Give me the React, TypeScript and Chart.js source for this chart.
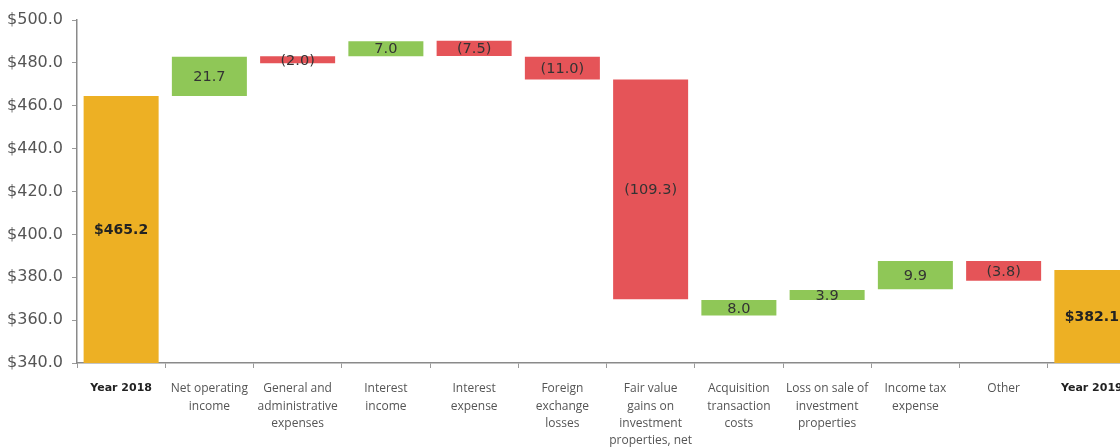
import React, { useEffect, useRef } from "react";
import { Chart, registerables } from "chart.js";

Chart.register(...registerables);

const categories: (string | string[])[] = [
  "Year 2018",
  ["Net operating", "income"],
  ["General and", "administrative", "expenses"],
  ["Interest", "income"],
  ["Interest", "expense"],
  ["Foreign", "exchange", "losses"],
  ["Fair value", "gains on", "investment", "properties, net"],
  ["Acquisition", "transaction", "costs"],
  ["Loss on sale of", "investment", "properties"],
  ["Income tax", "expense"],
  "Other",
  "Year 2019",
];

// bar bottoms and tops as drawn in the reference
const barLow = [340, 464.5, 479.8, 483.1, 483.2, 472.3, 369.7, 362.1, 369.4, 374.4, 378.4, 340];
const barHigh = [464.5, 482.8, 483.1, 490.1, 490.3, 482.8, 472.3, 369.4, 374.0, 387.6, 387.6, 383.4];
const valueLabels = ["$465.2", "21.7", "(2.0)", "7.0", "(7.5)", "(11.0)", "(109.3)", "8.0", "3.9", "9.9", "(3.8)", "$382.1"];
const barKinds = ["total", "up", "down", "up", "down", "down", "down", "up", "up", "up", "down", "total"];

const yMin = 340;
const yMax = 500;
const yStep = 20;

const kindColors: Record<string, string> = {
  total: "#EDB024",
  up: "#8FC757",
  down: "#E55458",
};

const labelPlugin = {
  id: "barValueLabels",
  afterDatasetsDraw(chart: any) {
    const ctx = chart.ctx;
    const meta = chart.getDatasetMeta(0);
    ctx.save();
    ctx.textAlign = "center";
    ctx.textBaseline = "middle";
    meta.data.forEach((bar: any, i: number) => {
      const p = bar.getProps(["x", "y", "base"], true);
      const total = barKinds[i] === "total";
      ctx.font = total ? "bold 14px 'DejaVu Sans', sans-serif" : "14.5px 'DejaVu Sans', sans-serif";
      ctx.fillStyle = total ? "#222" : "#333";
      ctx.fillText(valueLabels[i], p.x, (p.y + p.base) / 2 + 1);
    });
    ctx.restore();
  },
};

export default function App() {
  const ref = useRef<HTMLCanvasElement | null>(null);
  useEffect(() => {
    if (!ref.current) return;
    const chart = new Chart(ref.current, {
      type: "bar",
      data: {
        labels: categories,
        datasets: [
          {
            data: barLow.map((lo, i) => [lo, barHigh[i]]) as any,
            backgroundColor: barKinds.map((k) => kindColors[k]),
            borderWidth: 0,
            barPercentage: 0.85,
            categoryPercentage: 1,
          },
        ],
      },
      options: {
        responsive: false,
        animation: false,
        devicePixelRatio: 1,
        layout: { padding: { top: 20, right: 0, left: 0, bottom: 0 } },
        plugins: {
          legend: { display: false },
          tooltip: { enabled: false },
        },
        scales: {
          x: {
            afterFit: (s: any) => {
              s.height = 85;
            },
            border: { display: true, color: "#8a8a8a", width: 1.5 },
            grid: {
              display: true,
              offset: true,
              drawOnChartArea: false,
              drawTicks: true,
              tickLength: 5,
              color: "#9a9a9a",
            },
            ticks: {
              autoSkip: false,
              maxRotation: 0,
              minRotation: 0,
              padding: 12,
              color: (c: any) => (c.index === 0 || c.index === 11 ? "#222" : "#555"),
              font: (c: any) =>
                c.index === 0 || c.index === 11
                  ? { family: "'DejaVu Sans', sans-serif", size: 11, weight: "bold", lineHeight: 1.55 }
                  : { family: "'Open Sans', sans-serif", size: 12, weight: "normal", lineHeight: 1.45 },
            },
          },
          y: {
            min: yMin,
            max: yMax,
            afterFit: (s: any) => {
              s.width = 77;
            },
            border: { display: true, color: "#8a8a8a", width: 1.5 },
            grid: {
              display: true,
              drawOnChartArea: false,
              drawTicks: true,
              tickLength: 5,
              color: "#9a9a9a",
            },
            ticks: {
              stepSize: yStep,
              padding: 9,
              color: "#555",
              font: { family: "'DejaVu Sans', sans-serif", size: 16 },
              callback: (v: any) => "$" + Number(v).toFixed(1),
            },
          },
        },
      },
      plugins: [labelPlugin],
    });
    return () => chart.destroy();
  }, []);

  return (
    <div
      style={{
        position: "fixed",
        left: 0,
        top: 0,
        width: 1120,
        height: 448,
        overflow: "hidden",
        background: "#fff",
      }}
    >
      <canvas ref={ref} width={1136} height={448} style={{ display: "block" }} />
    </div>
  );
}
